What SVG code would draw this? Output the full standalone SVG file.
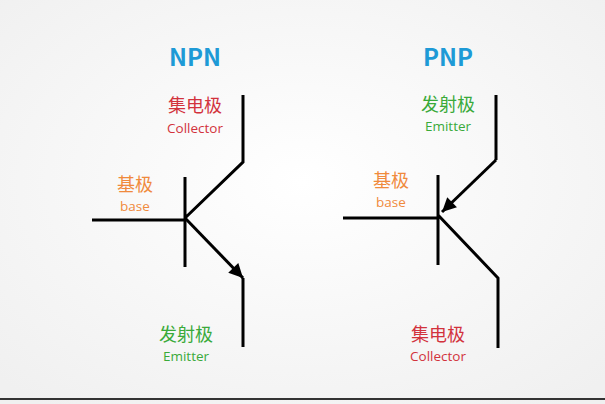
<svg xmlns="http://www.w3.org/2000/svg" width="605" height="404" viewBox="0 0 605 404">
<defs>
<radialGradient id="bg" cx="0.5" cy="0.45" r="0.7"><stop offset="0" stop-color="#ffffff"/><stop offset="1" stop-color="#f0f0f0"/></radialGradient>
<marker id="ah" viewBox="0 0 10 10" refX="10" refY="5" markerWidth="18" markerHeight="14" markerUnits="userSpaceOnUse" orient="auto"><path d="M0,0 L10,5 L0,10 z" fill="#000"/></marker>
</defs>
<style>
.w{stroke:#000;stroke-width:3;fill:none;stroke-linecap:butt}
text{font-family:"Noto Sans CJK SC","Noto Sans",sans-serif;text-anchor:middle}
.t{fill:#1e9ad6;font-size:24px;font-weight:bold}
.cn{font-size:18px}.en{font-size:13.5px;font-family:"Open Sans","Noto Sans",sans-serif}
.r{fill:#d2323c}.o{fill:#f08a3c}.g{fill:#3aaa3a}
</style>
<rect width="605" height="404" fill="url(#bg)"/>
<line x1="0" y1="399" x2="605" y2="399" stroke="#333" stroke-width="2"/>
<g id="npn">
<text class="t" x="195" y="66">NPN</text>
<text class="cn r" x="195" y="112">集电极</text><text class="en r" x="195" y="133">Collector</text>
<text class="cn o" x="135" y="191">基极</text><text class="en o" x="135" y="211">base</text>
<text class="cn g" x="186" y="341">发射极</text><text class="en g" x="186" y="361">Emitter</text>
</g>
<g id="pnp">
<text class="t" x="448" y="66">PNP</text>
<text class="cn g" x="448" y="111">发射极</text><text class="en g" x="448" y="131">Emitter</text>
<text class="cn o" x="391" y="187">基极</text><text class="en o" x="391" y="207">base</text>
<text class="cn r" x="438" y="341">集电极</text><text class="en r" x="438" y="361">Collector</text>
</g>
<g id="connectors">
<path class="w" d="M92,220 H185 M185,177 V267 M185,218 L243,162 V95 M243,278 V347"/>
<path class="w" d="M185,218 L243,278" marker-end="url(#ah)"/>
<path class="w" d="M343,218 H438 M438,175 V265 M438,215 L498,278 V348 M496,95 V160"/>
<path class="w" d="M496,160 L442,212" marker-end="url(#ah)"/>
</g>
</svg>
